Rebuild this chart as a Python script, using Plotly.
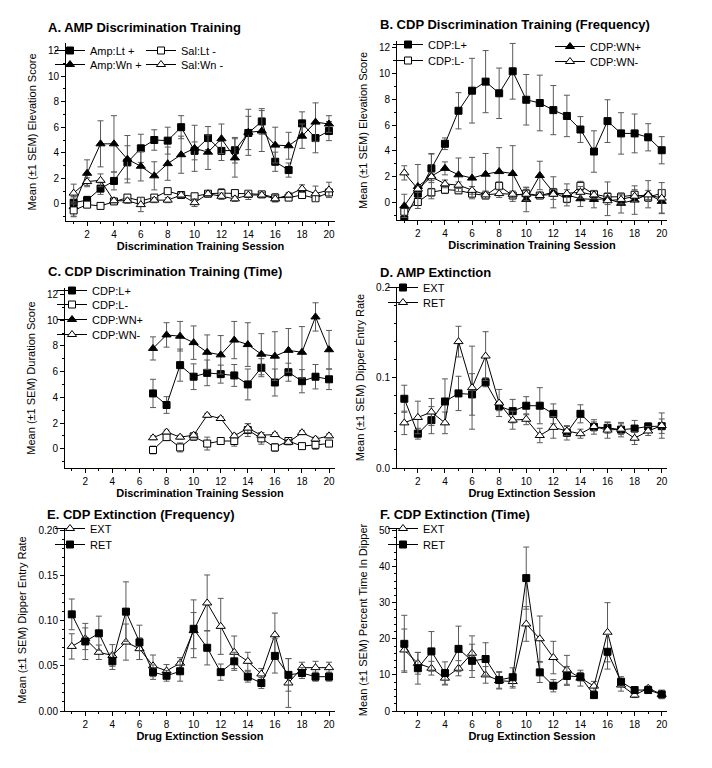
import plotly.graph_objects as go

W, H = 712, 768
sessions = list(range(1, 21))
c_sessions = list(range(7, 21))

# Panel A: AMP Discrimination Training
a_lt_plus = [0.1, 0.3, 1.2, 1.8, 3.25, 4.35, 5.0, 4.95, 6.0, 4.15, 5.15, 4.15, 4.2, 5.55, 6.45, 3.3, 2.65, 6.3, 5.15, 5.7]
a_lt_plus_err = [0.5, 0.3, 0.45, 0.7, 1.3, 1.1, 0.8, 1.05, 0.9, 0.7, 0.9, 0.75, 1.0, 1.3, 1.0, 0.75, 0.55, 0.9, 1.15, 0.75]
a_wn_plus = [-0.2, 2.4, 4.7, 4.7, 3.5, 2.95, 2.2, 3.15, 3.85, 4.35, 4.05, 5.1, 3.6, 5.6, 5.7, 4.6, 4.55, 5.3, 6.4, 6.25]
a_wn_plus_err = [0.75, 1.05, 1.8, 2.2, 1.85, 1.15, 1.1, 1.3, 1.45, 1.8, 1.35, 1.15, 1.5, 1.8, 1.6, 1.4, 1.05, 0.95, 1.5, 0.65]
a_sal_lt = [-0.5, -0.05, -0.15, 0.2, 0.5, 0.25, 0.5, 1.0, 0.7, 0.6, 0.8, 0.85, 0.85, 0.8, 0.75, 0.5, 0.5, 0.7, 0.45, 0.9]
a_sal_lt_err = [0.5, 0.2, 0.2, 0.15, 0.2, 0.25, 0.2, 0.15, 0.15, 0.15, 0.15, 0.35, 0.2, 0.25, 0.2, 0.3, 0.2, 0.2, 0.25, 0.25]
a_sal_wn = [0.85, 1.75, 1.85, 0.25, 0.25, -0.05, 0.3, 0.3, 0.7, 0.1, 0.8, 0.6, 0.4, 0.7, 0.7, 0.4, 0.7, 1.2, 0.8, 1.1]
a_sal_wn_err = [0.7, 0.3, 0.5, 0.15, 0.2, 0.55, 0.2, 0.2, 0.2, 0.3, 0.2, 0.25, 0.2, 0.35, 0.2, 0.25, 0.2, 0.3, 0.6, 0.6]

# Panel B: CDP Discrimination Training (Frequency)
b_l_plus = [-1.3, 0.7, 2.65, 4.55, 7.1, 8.65, 9.35, 8.45, 10.15, 7.95, 7.7, 7.15, 6.7, 5.65, 3.95, 6.3, 5.35, 5.35, 5.05, 4.05]
b_l_plus_err = [0.3, 0.5, 1.1, 0.45, 1.4, 2.5, 2.4, 1.95, 2.15, 1.95, 2.15, 1.9, 1.6, 1.0, 1.6, 1.65, 1.6, 1.5, 1.05, 1.05]
b_l_minus = [-0.7, 0.05, 0.8, 1.0, 0.95, 0.7, 0.55, 1.3, 0.55, 0.7, 0.55, 0.8, 0.3, 1.3, 0.65, 0.45, 0.45, 0.6, 0.4, 0.75]
b_l_minus_err = [0.3, 0.2, 0.3, 0.3, 0.25, 0.25, 0.2, 0.3, 0.2, 0.3, 0.15, 0.3, 0.3, 0.35, 0.3, 0.3, 0.3, 0.4, 0.3, 0.25]
b_wn_plus = [-0.25, 1.25, 2.05, 2.65, 2.15, 1.9, 2.2, 2.4, 2.25, 0.25, 2.1, 0.8, 0.6, 0.3, 0.25, 0.3, -0.05, 0.2, 0.65, 0.1]
b_wn_plus_err = [0.9, 1.7, 1.75, 0.5, 1.3, 1.6, 1.6, 1.85, 2.15, 0.95, 1.1, 1.2, 0.85, 0.6, 0.65, 1.3, 0.75, 1.1, 1.05, 0.9]
b_wn_minus = [2.3, 1.05, 2.0, 1.45, 1.35, 0.95, 0.6, 0.7, 0.65, 0.65, 0.55, 0.65, 0.7, 0.8, 0.6, 0.15, 0.25, 0.5, 0.6, 0.35]
b_wn_minus_err = [0.55, 0.25, 0.3, 0.3, 0.25, 0.3, 0.3, 0.3, 0.25, 0.5, 0.2, 0.4, 0.3, 0.45, 0.3, 0.3, 0.35, 0.4, 0.35, 1.2]

# Panel C: CDP Discrimination Training (Time), sessions 7-20
c_l_plus = [4.3, 3.4, 6.5, 5.6, 5.9, 5.8, 5.7, 5.0, 6.3, 5.15, 5.95, 5.25, 5.6, 5.4]
c_l_plus_err = [1.1, 0.65, 1.25, 1.0, 1.0, 0.7, 0.85, 1.2, 0.7, 1.05, 0.7, 0.9, 0.95, 0.8]
c_l_minus = [-0.1, 0.9, 0.1, 0.95, 0.4, 0.6, 0.6, 1.45, 0.8, 0.1, 0.6, 0.2, 0.3, 0.4]
c_l_minus_err = [0.3, 0.25, 0.35, 0.3, 0.5, 0.2, 0.4, 0.5, 0.45, 0.3, 0.25, 0.15, 0.35, 0.2]
c_wn_plus = [7.8, 8.85, 8.75, 8.25, 7.5, 7.3, 8.45, 8.1, 7.35, 7.2, 7.65, 7.5, 10.25, 7.7]
c_wn_plus_err = [0.9, 0.95, 1.15, 1.3, 1.35, 1.5, 1.45, 1.7, 1.6, 1.9, 1.7, 2.0, 1.1, 1.5]
c_wn_minus = [0.85, 1.3, 0.9, 1.05, 2.6, 2.35, 1.0, 1.6, 1.05, 1.1, 0.5, 1.25, 0.75, 1.0]
c_wn_minus_err = [0.15, 0.15, 0.15, 0.2, 0.15, 0.15, 0.15, 0.35, 0.2, 0.15, 0.2, 0.15, 0.15, 0.15]

# Panel D: AMP Extinction
d_ext = [0.0767, 0.038, 0.053, 0.0737, 0.0826, 0.0815, 0.095, 0.0685, 0.063, 0.069, 0.069, 0.060, 0.039, 0.060, 0.0455, 0.0445, 0.0425, 0.0437, 0.046, 0.0463]
d_ext_err = [0.015, 0.006, 0.015, 0.025, 0.019, 0.023, 0.005, 0.005, 0.013, 0.01, 0.02, 0.011, 0.008, 0.01, 0.008, 0.006, 0.008, 0.009, 0.004, 0.008]
d_ret = [0.050, 0.056, 0.062, 0.050, 0.140, 0.089, 0.124, 0.072, 0.053, 0.054, 0.036, 0.045, 0.041, 0.038, 0.046, 0.042, 0.043, 0.033, 0.041, 0.047]
d_ret_err = [0.013, 0.018, 0.015, 0.012, 0.017, 0.046, 0.027, 0.015, 0.01, 0.006, 0.008, 0.012, 0.005, 0.005, 0.005, 0.009, 0.006, 0.007, 0.005, 0.014]

# Panel E: CDP Extinction (Frequency)
e_ext = [0.0715, 0.080, 0.065, 0.0615, 0.0763, 0.069, 0.050, 0.0444, 0.053, 0.089, 0.1196, 0.0937, 0.065, 0.055, 0.041, 0.0844, 0.031, 0.048, 0.048, 0.048]
e_ext_err = [0.014, 0.012, 0.008, 0.012, 0.02, 0.012, 0.012, 0.007, 0.006, 0.02, 0.031, 0.031, 0.018, 0.01, 0.006, 0.024, 0.027, 0.006, 0.007, 0.006]
e_ret = [0.107, 0.077, 0.086, 0.055, 0.110, 0.076, 0.043, 0.039, 0.044, 0.091, 0.070, 0.043, 0.055, 0.038, 0.031, 0.061, 0.040, 0.042, 0.038, 0.038]
e_ret_err = [0.017, 0.02, 0.019, 0.009, 0.033, 0.019, 0.008, 0.006, 0.011, 0.032, 0.019, 0.009, 0.01, 0.006, 0.006, 0.019, 0.018, 0.006, 0.005, 0.005]

# Panel F: CDP Extinction (Time)
f_ext = [16.9, 13.2, 11.85, 9.1, 11.85, 16.0, 10.0, 8.4, 8.15, 24.1, 20.0, 14.8, 11.4, 9.1, 6.9, 21.8, 7.2, 4.4, 6.3, 4.6]
f_ext_err = [5.8, 3.0, 1.9, 1.9, 2.1, 4.8, 2.3, 2.3, 1.8, 4.8, 6.3, 4.5, 4.0, 2.2, 1.3, 8.2, 1.7, 0.7, 0.6, 1.2]
f_ret = [18.6, 11.85, 16.5, 10.5, 17.2, 13.9, 14.4, 8.6, 9.35, 36.8, 10.7, 7.0, 9.7, 9.5, 4.4, 16.4, 8.1, 5.8, 5.8, 4.6]
f_ret_err = [7.9, 4.4, 5.5, 3.1, 6.3, 4.6, 4.5, 2.3, 2.6, 8.6, 2.8, 1.7, 2.6, 1.2, 0.8, 4.8, 1.4, 0.8, 0.8, 0.6]

FONT = "Liberation Sans, Arial, sans-serif"
ERRC = "#5a5a5a"

STYLES = {
    "fsq": dict(symbol="square", color="black", size=7),
    "osq": dict(symbol="square", color="white", size=7),
    "ftr": dict(symbol="triangle-up", color="black", size=8),
    "otr": dict(symbol="triangle-up", color="white", size=8),
}

fig = go.Figure()
legend_slots = []  # (legend text start px, row centre px)


def add(n, x, y, err, name, style, text_x, row_y):
    st = STYLES[style]
    k = len(legend_slots) + 1
    lg = "legend" if k == 1 else f"legend{k}"
    legend_slots.append((text_x, row_y))
    fig.add_trace(go.Scatter(
        x=x, y=y, name=name, mode="lines+markers", showlegend=True,
        xaxis="x" if n == 1 else f"x{n}", yaxis="y" if n == 1 else f"y{n}",
        line=dict(color="black", width=1),
        marker=dict(symbol=st["symbol"], size=st["size"], color=st["color"],
                    line=dict(color="black", width=1)),
        error_y=dict(type="data", array=err, visible=True, color=ERRC, thickness=1, width=3),
        legend=lg,
    ))


add(1, sessions, a_lt_plus, a_lt_plus_err, "Amp:Lt +", "fsq", 90, 50)
add(1, sessions, a_wn_plus, a_wn_plus_err, "Amp:Wn +", "ftr", 90, 64)
add(1, sessions, a_sal_lt, a_sal_lt_err, "Sal:Lt -", "osq", 181, 50)
add(1, sessions, a_sal_wn, a_sal_wn_err, "Sal:Wn -", "otr", 181, 64)

add(2, sessions, b_l_plus, b_l_plus_err, "CDP:L+", "fsq", 428, 44)
add(2, sessions, b_l_minus, b_l_minus_err, "CDP:L-", "osq", 428, 60)
add(2, sessions, b_wn_plus, b_wn_plus_err, "CDP:WN+", "ftr", 590, 46)
add(2, sessions, b_wn_minus, b_wn_minus_err, "CDP:WN-", "otr", 590, 61)

add(3, c_sessions, c_l_plus, c_l_plus_err, "CDP:L+", "fsq", 92, 290)
add(3, c_sessions, c_l_minus, c_l_minus_err, "CDP:L-", "osq", 92, 304)
add(3, c_sessions, c_wn_plus, c_wn_plus_err, "CDP:WN+", "ftr", 92, 319)
add(3, c_sessions, c_wn_minus, c_wn_minus_err, "CDP:WN-", "otr", 92, 334)

add(4, sessions, d_ext, d_ext_err, "EXT", "fsq", 423, 287)
add(4, sessions, d_ret, d_ret_err, "RET", "otr", 423, 302)

add(5, sessions, e_ext, e_ext_err, "EXT", "otr", 90, 528)
add(5, sessions, e_ret, e_ret_err, "RET", "fsq", 90, 544)

add(6, sessions, f_ext, f_ext_err, "EXT", "otr", 423, 528)
add(6, sessions, f_ret, f_ret_err, "RET", "fsq", 423, 544)


def xd(a, b):
    return [a / W, b / W]


def yd(top, bottom):
    return [1 - bottom / H, 1 - top / H]


def xaxis(n, dom, rng, title):
    return dict(domain=dom, range=rng, anchor="y" if n == 1 else f"y{n}",
                showline=True, linecolor="black", linewidth=1, mirror=False,
                ticks="outside", ticklen=4, tickwidth=1, tickcolor="black",
                tick0=0, dtick=2, showgrid=False, zeroline=False,
                minor=dict(dtick=1, ticks="outside", ticklen=2, tickcolor="black", showgrid=False),
                tickfont=dict(size=10, family=FONT, color="black"),
                title=dict(text=f"<b>{title}</b>", font=dict(size=11, family=FONT, color="black"), standoff=0),
                automargin=False)


def yaxis(n, dom, rng, dtick, minor, fmt, title):
    return dict(domain=dom, range=rng, anchor="x" if n == 1 else f"x{n}",
                showline=True, linecolor="black", linewidth=1,
                ticks="outside", ticklen=4, tickwidth=1, tickcolor="black",
                tick0=0, dtick=dtick, tickformat=fmt, showgrid=False, zeroline=False,
                minor=dict(dtick=minor, ticks="outside", ticklen=2, tickcolor="black", showgrid=False),
                tickfont=dict(size=10, family=FONT, color="black"),
                title=dict(text=title, font=dict(size=11, family=FONT, color="black"), standoff=9),
                automargin=False)


elev = "Mean (\u00b11 SEM) Elevation Score"
rate = "Mean (\u00b11 SEM) Dipper Entry Rate"
xt_train = "Discrimination Training Session"
xt_ext = "Drug Extinction Session"

layout = dict(
    width=W, height=H, margin=dict(l=0, r=0, t=0, b=0),
    paper_bgcolor="white", plot_bgcolor="white", showlegend=True,
    font=dict(family=FONT, color="black"),
    xaxis=xaxis(1, xd(58, 327), [0.43, 20.45], xt_train),
    yaxis=yaxis(1, yd(35, 213), [-1.33, 12.58], 2, 1, None, elev),
    xaxis2=xaxis(2, xd(389, 659), [0.46, 20.39], xt_train),
    yaxis2=yaxis(2, yd(33, 212), [-1.34, 12.49], 2, 1, None, elev),
    xaxis3=xaxis(3, xd(57, 327), [0.5, 20.44], xt_train),
    yaxis3=yaxis(3, yd(280, 460), [-1.5, 12.5], 2, 1, None, "Mean (\u00b11 SEM) Duration Score"),
    xaxis4=xaxis(4, xd(389, 659), [0.46, 20.39], xt_ext),
    yaxis4=yaxis(4, yd(279, 460), [0, 0.2005], 0.1, 0.02, ".1f", rate),
    xaxis5=xaxis(5, xd(57, 327), [0.5, 20.44], xt_ext),
    yaxis5=yaxis(5, yd(521, 703), [0, 0.2015], 0.05, 0.01, ".2f", rate),
    xaxis6=xaxis(6, xd(389, 659), [0.46, 20.39], xt_ext),
    yaxis6=yaxis(6, yd(521, 703), [0, 50.4], 10, 2, None, "Mean (\u00b11 SEM) Percent Time In Dipper"),
)

leg_font = dict(size=11, family=FONT, color="black")
for i, (tx, ry) in enumerate(legend_slots, start=1):
    key = "legend" if i == 1 else f"legend{i}"
    layout[key] = dict(x=(tx - 48) / W, y=1 - (ry - 22) / H, xanchor="left", yanchor="top",
                       bgcolor="rgba(0,0,0,0)", borderwidth=0, font=leg_font,
                       itemwidth=30, tracegroupgap=0, itemclick=False, visible=True)

titles = [
    (38, 19, "A. AMP Discrimination Training"),
    (370, 17, "B. CDP Discrimination Training (Frequency)"),
    (38, 263, "C. CDP Discrimination Training (Time)"),
    (370, 265, "D. AMP Extinction"),
    (37, 506, "E. CDP Extinction (Frequency)"),
    (370, 506, "F. CDP Extinction (Time)"),
]
layout["annotations"] = [
    dict(text=f"<b>{t}</b>", x=x / W, y=1 - y / H, xref="paper", yref="paper",
         xanchor="left", yanchor="middle", showarrow=False,
         font=dict(size=13, family=FONT, color="black"))
    for x, y, t in titles
]

fig.update_layout(**layout)
fig.write_html("out.html")
